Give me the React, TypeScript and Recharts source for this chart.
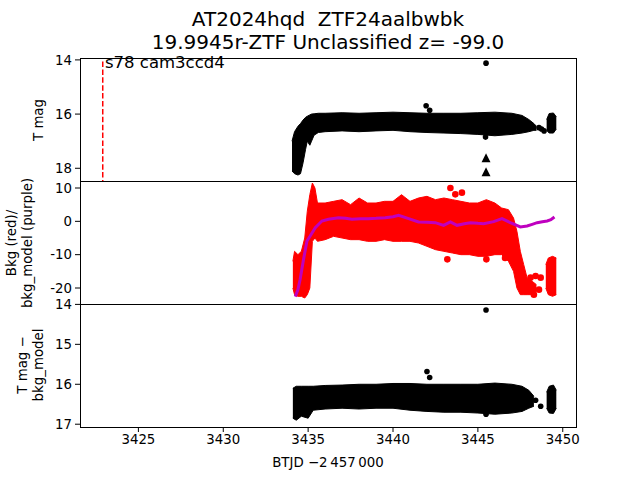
import { ComposedChart, Area, Line, Scatter, XAxis, YAxis, ReferenceLine } from "recharts";

const X_DOMAIN = [3421.56, 3450.78];
const X_TICKS = [3425, 3430, 3435, 3440, 3445, 3450];

// top panel: T mag band (bright edge / faint edge)
const topX = [3434.05, 3434.2, 3434.4, 3434.55, 3434.7, 3434.85, 3434.95, 3435.1, 3435.2, 3435.35, 3435.6, 3436, 3437, 3438, 3439, 3440, 3441, 3442, 3443, 3444, 3445, 3446, 3447, 3447.6, 3448.0, 3448.3, 3448.45, 3448.75, 3449.05, 3449.2, 3449.45, 3449.62];
const topLo = [17.0, 16.65, 16.45, 16.35, 16.22, 16.12, 16.08, 16.03, 16.0, 15.99, 15.97, 15.97, 15.95, 15.97, 15.95, 15.93, 15.95, 15.97, 15.97, 15.97, 15.95, 15.93, 15.97, 16.05, 16.2, 16.35, 16.45, NaN, 16.2, 15.98, 15.96, 16.1];
const topHi = [18.1, 18.2, 18.25, 18.2, 17.8, 17.3, 17.0, 17.15, 17.0, 16.78, 16.68, 16.65, 16.62, 16.65, 16.62, 16.6, 16.65, 16.68, 16.7, 16.72, 16.75, 16.8, 16.75, 16.7, 16.65, 16.6, 16.6, NaN, 16.6, 16.7, 16.7, 16.55];
const topDotsX = [3441.95, 3442.16, 3445.48, 3445.45, 3448.6, 3448.75, 3448.9];
const topDotsY = [15.69, 15.86, 14.12, 16.85, 16.5, 16.55, 16.62];
const limitX = [3445.48, 3445.48];
const limitY = [17.63, 18.15];

// middle panel: background (red) and model (purple)
const bkgX = [3434.1, 3434.2, 3434.4, 3434.6, 3434.8, 3434.95, 3435.1, 3435.25, 3435.4, 3435.55, 3436, 3436.5, 3437, 3437.5, 3438, 3438.5, 3439, 3439.5, 3440, 3440.5, 3441, 3441.5, 3442, 3442.5, 3443, 3443.5, 3444, 3444.5, 3445, 3445.5, 3446, 3446.4, 3446.8, 3447.1, 3447.3, 3447.5, 3447.7, 3447.9, 3448.2, 3448.45, 3448.75, 3449.0, 3449.15, 3449.4, 3449.62];
const bkgLo = [-20, -22, -22.5, -22.5, -23, -22, -20, -6, -5, -6, -5.5, -4.5, -5, -5.5, -5.5, -6, -6, -5.5, -6, -6, -6, -6.5, -7.5, -8.5, -9, -9.5, -10, -10, -10.5, -10.5, -10, -10, -12, -15, -20, -22, -22, -22, -22, -21, NaN, -20, -22, -22.5, -22];
const bkgHi = [-12, -9, -10, -9, -5, 3, 8, 11.5, 10, 5.5, 5.5, 6, 6.5, 5, 7, 5.5, 5.5, 6, 6, 8, 6, 7, 7.5, 6.5, 7, 6.5, 6, 5.5, 5.5, 6.5, 5.5, 4, 3.5, 1, -3, -9, -13, -17, -18, -19, NaN, -13, -11, -10.5, -11];
const bkgDotsX = [3443.38, 3443.67, 3444.06, 3443.2, 3445.5, 3446.6, 3448.1, 3448.4, 3448.7, 3448.6, 3448.3];
const bkgDotsY = [10.0, 8.1, 8.6, -11.4, -11.4, -11.0, -16.9, -16.4, -16.9, -20.5, -22];
const modelX = [3434.24, 3434.4, 3434.53, 3434.73, 3434.93, 3435.12, 3435.42, 3435.81, 3436.2, 3436.79, 3437.2, 3437.58, 3438.1, 3438.56, 3439.0, 3439.54, 3440.0, 3440.33, 3440.92, 3441.5, 3442.0, 3442.49, 3442.98, 3443.38, 3443.77, 3444.2, 3444.56, 3445.0, 3445.34, 3445.93, 3446.42, 3446.91, 3447.5, 3447.9, 3448.2, 3448.49, 3448.8, 3449.08, 3449.3, 3449.51];
const modelY = [-22.6, -20.5, -17.4, -11.4, -5.9, -4.4, -1.9, 0.1, 0.6, 1.1, 0.9, 0.6, 0.8, 0.8, 0.9, 1.1, 1.4, 1.8, 0.8, -0.2, -0.3, -0.4, -1.2, -0.2, -1.2, -0.7, -0.4, -0.6, -0.7, -0.1, 0.8, -0.4, -1.7, -1.4, -0.9, -0.4, -0.1, 0.1, 0.5, 1.3];

// bottom panel: T mag - bkg_model
const subX = [3434.1, 3434.3, 3434.6, 3435.0, 3435.3, 3436, 3437, 3438, 3439, 3440, 3441, 3442, 3443, 3444, 3445, 3446, 3447, 3447.6, 3448.0, 3448.3, 3448.75, 3449.05, 3449.2, 3449.45, 3449.62];
const subLo = [16.1, 16.05, 16.05, 16.05, 16.05, 16.03, 16.02, 16.0, 16.0, 15.98, 15.98, 16.0, 16.0, 16.0, 16.0, 15.97, 16.0, 16.05, 16.15, 16.3, NaN, 16.2, 16.05, 16.02, 16.15];
const subHi = [16.85, 16.9, 16.8, 16.85, 16.65, 16.62, 16.6, 16.62, 16.6, 16.6, 16.65, 16.68, 16.7, 16.7, 16.72, 16.75, 16.72, 16.68, 16.6, 16.55, NaN, 16.6, 16.72, 16.73, 16.6];
const subDotsX = [3442.0, 3442.16, 3445.48, 3445.48, 3448.4, 3448.7];
const subDotsY = [15.68, 15.83, 14.14, 16.75, 16.4, 16.55];

const SECTOR_X = 3422.9;

const band = (xs: number[], lo: number[], hi: number[]) =>
  xs.map((x, i) => ({ x, band: isNaN(lo[i]) ? null : [lo[i], hi[i]] }));
const pts = (xs: number[], ys: number[]) => xs.map((x, i) => ({ x, y: ys[i] }));

const FONT = "DejaVu Sans, sans-serif";
const tick = { fill: "#000", fontSize: 13.33, fontFamily: FONT };
const W = 640;
const PAD = 12;
const MARGIN = { top: PAD, right: 64, bottom: PAD, left: 0 };
const MARGIN_LAST = { top: PAD, right: 64, bottom: 0, left: 0 };

const dot = (r: number, c: string) => (p: any) => <circle cx={p.cx} cy={p.cy} r={r} fill={c} />;
const tri = (p: any) => (
  <polygon points={`${p.cx},${p.cy - 5} ${p.cx - 4.5},${p.cy + 4} ${p.cx + 4.5},${p.cy + 4}`} fill="#000" />
);

function Frame({ top }: { top: number }) {
  return (
    <div style={{ position: "absolute", left: 80, top, width: 497, height: 124, border: "1px solid #000", boxSizing: "border-box", pointerEvents: "none" }} />
  );
}

function YLabel({ lines, cx, cy }: { lines: string[]; cx: number; cy: number }) {
  return (
    <div style={{ position: "absolute", left: cx - 100, top: cy - 20, width: 200, height: 40, display: "flex", alignItems: "center", justifyContent: "center", transform: "rotate(-90deg)", fontSize: 13.33, lineHeight: "16px", textAlign: "center", whiteSpace: "pre" }}>
      {lines.join("\n")}
    </div>
  );
}

export default function App() {
  return (
    <div style={{ position: "absolute", left: 0, top: 0, width: 640, height: 480, background: "#fff", fontFamily: FONT, color: "#000" }}>
      <div style={{ position: "absolute", left: 8, top: 8, width: 640, textAlign: "center", fontSize: 20, lineHeight: "23px", whiteSpace: "pre" }}>
        {"AT2024hqd  ZTF24aalbwbk\n19.9945r-ZTF Unclassified z= -99.0"}
      </div>

      <div style={{ position: "absolute", left: 0, top: 58 - PAD }}>
        <ComposedChart width={W} height={123 + 2 * PAD} data={band(topX, topLo, topHi)} margin={MARGIN}>
          <XAxis dataKey="x" type="number" domain={X_DOMAIN} allowDataOverflow hide />
          <YAxis type="number" reversed domain={[13.93, 18.47]} allowDataOverflow ticks={[14, 16, 18]} interval={0} width={80} tick={tick} tickSize={5} tickMargin={3} axisLine={false} tickLine={{ stroke: "#000" }} />
          <Area dataKey="band" type="linear" stroke="#000" strokeWidth={1} fill="#000" fillOpacity={1} isAnimationActive={false} dot={false} activeDot={false} />
          <Scatter data={pts(topDotsX, topDotsY)} dataKey="y" shape={dot(2.8, "#000")} isAnimationActive={false} />
          <Scatter data={pts(limitX, limitY)} dataKey="y" shape={tri} isAnimationActive={false} />
          <ReferenceLine segment={[{ x: SECTOR_X, y: 14.06 }, { x: SECTOR_X, y: 18.47 }]} stroke="#ff0000" strokeWidth={1.5} strokeDasharray="5.5 2.4" ifOverflow="visible" />
        </ComposedChart>
      </div>

      <div style={{ position: "absolute", left: 0, top: 181 - PAD }}>
        <ComposedChart width={W} height={123 + 2 * PAD} data={band(bkgX, bkgLo, bkgHi)} margin={MARGIN}>
          <XAxis dataKey="x" type="number" domain={X_DOMAIN} allowDataOverflow hide />
          <YAxis type="number" domain={[-24.8, 12.1]} allowDataOverflow ticks={[-20, -10, 0, 10]} interval={0} width={80} tick={tick} tickSize={5} tickMargin={3} axisLine={false} tickLine={{ stroke: "#000" }} />
          <Area dataKey="band" type="linear" stroke="#ff0000" strokeWidth={1} fill="#ff0000" fillOpacity={1} isAnimationActive={false} dot={false} activeDot={false} />
          <Scatter data={pts(bkgDotsX, bkgDotsY)} dataKey="y" shape={dot(3.3, "#ff0000")} isAnimationActive={false} />
          <Line data={pts(modelX, modelY)} dataKey="y" type="linear" stroke="#bf00bf" strokeWidth={3} dot={false} activeDot={false} isAnimationActive={false} />
        </ComposedChart>
      </div>

      <div style={{ position: "absolute", left: 0, top: 304 - PAD }}>
        <ComposedChart width={W} height={176 + PAD} data={band(subX, subLo, subHi)} margin={MARGIN_LAST}>
          <XAxis dataKey="x" type="number" domain={X_DOMAIN} allowDataOverflow ticks={X_TICKS} interval={0} height={53} tick={tick} tickSize={5} tickMargin={3} axisLine={false} tickLine={{ stroke: "#000" }} />
          <YAxis type="number" reversed domain={[13.99, 17.07]} allowDataOverflow ticks={[14, 15, 16, 17]} interval={0} width={80} tick={tick} tickSize={5} tickMargin={3} axisLine={false} tickLine={{ stroke: "#000" }} />
          <Area dataKey="band" type="linear" stroke="#000" strokeWidth={1} fill="#000" fillOpacity={1} isAnimationActive={false} dot={false} activeDot={false} />
          <Scatter data={pts(subDotsX, subDotsY)} dataKey="y" shape={dot(2.8, "#000")} isAnimationActive={false} />
        </ComposedChart>
      </div>

      <Frame top={58} />
      <Frame top={181} />
      <Frame top={304} />

      <div style={{ position: "absolute", left: 105, top: 53, fontSize: 16.5, lineHeight: "20px", whiteSpace: "pre" }}>s78 cam3ccd4</div>

      <YLabel lines={["T mag"]} cx={39} cy={120} />
      <YLabel lines={["Bkg (red)/", "bkg_model (purple)"]} cx={20} cy={243} />
      <YLabel lines={["T mag \u2212", "bkg_model"]} cx={31} cy={365} />

      <div style={{ position: "absolute", left: 128, top: 455, width: 400, textAlign: "center", fontSize: 13.33, lineHeight: "16px", whiteSpace: "pre" }}>
        {"BTJD \u22122\u2009457\u2009000"}
      </div>
    </div>
  );
}
